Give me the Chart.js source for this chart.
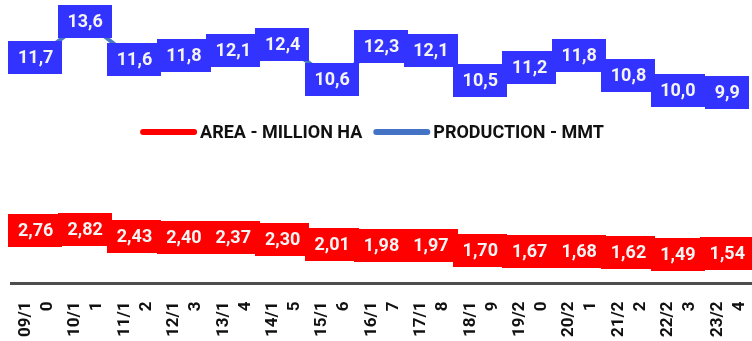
<!DOCTYPE html>
<html>
<head>
<meta charset="utf-8">
<script src="https://cdn.jsdelivr.net/npm/chart.js@4/dist/chart.umd.min.js"></script>
<style>
  html, body { margin: 0; padding: 0; background: #ffffff; }
  #wrap { width: 752px; height: 341px; position: relative; }
</style>
</head>
<body>
<div id="wrap"><canvas id="c" width="752" height="341"></canvas></div>
<script>
// Crop seasons
const seasons = ["09/10", "10/11", "11/12", "12/13", "13/14", "14/15", "15/16", "16/17",
                 "17/18", "18/19", "19/20", "20/21", "21/22", "22/23", "23/24"];
// Harvested area, million hectares
const areaMha = [2.76, 2.82, 2.43, 2.40, 2.37, 2.30, 2.01, 1.98, 1.97, 1.70, 1.67, 1.68, 1.62, 1.49, 1.54];
// Production, million metric tonnes
const productionMmt = [11.7, 13.6, 11.6, 11.8, 12.1, 12.4, 10.6, 12.3, 12.1, 10.5, 11.2, 11.8, 10.8, 10.0, 9.9];

const seriesNames = ["AREA - MILLION HA", "PRODUCTION - MMT"];

// Season labels wrap after the fourth character, as on the printed axis
const tickLabels = seasons.map(s => [s.slice(0, 4), s.slice(4)]);

const FONT = "Roboto, 'Noto Sans', sans-serif";

// Boxed value labels centred on each point
const valueBoxes = {
  id: 'valueBoxes',
  afterDatasetsDraw(chart) {
    const ctx = chart.ctx;
    ctx.save();
    ctx.font = "bold 18px " + FONT;
    ctx.textAlign = 'center';
    ctx.textBaseline = 'middle';
    chart.data.datasets.forEach((ds, di) => {
      const meta = chart.getDatasetMeta(di);
      meta.data.forEach((pt, i) => {
        const txt = ds.data[i].toFixed(ds.decimals).replace('.', ',');
        const w = ctx.measureText(txt).width + 19;
        const h = 33;
        ctx.fillStyle = ds.boxColor;
        ctx.fillRect(Math.round(pt.x - w / 2), Math.round(pt.y - h / 2), Math.round(w), h);
        ctx.fillStyle = '#f4f4f4';
        ctx.fillText(txt, pt.x, pt.y + 1);
      });
    });
    ctx.restore();
  }
};

// Legend row drawn across the middle of the plot
const middleLegend = {
  id: 'middleLegend',
  afterDraw(chart) {
    const ctx = chart.ctx;
    ctx.save();
    ctx.font = "bold 18px " + FONT;
    ctx.textBaseline = 'middle';
    ctx.textAlign = 'left';
    const lineW = 57, gap = 3, itemGap = 11;
    const items = chart.data.datasets.map(ds => ({
      label: ds.label, color: ds.legendColor, tw: ctx.measureText(ds.label).width
    }));
    const total = items.reduce((a, it) => a + lineW + gap + it.tw, 0) + itemGap * (items.length - 1);
    let x = chart.width / 2 - 4 - total / 2;
    const y = 132;
    items.forEach(it => {
      ctx.strokeStyle = it.color;
      ctx.lineWidth = 6;
      ctx.lineCap = 'round';
      ctx.beginPath();
      ctx.moveTo(x + 3, y);
      ctx.lineTo(x + lineW - 3, y);
      ctx.stroke();
      x += lineW + gap;
      ctx.fillStyle = '#111111';
      ctx.fillText(it.label, x, y + 1);
      x += it.tw + itemGap;
    });
    ctx.restore();
  }
};

new Chart(document.getElementById('c'), {
  type: 'line',
  data: {
    labels: tickLabels,
    datasets: [
      {
        label: seriesNames[0],
        data: areaMha,
        decimals: 2,
        borderColor: '#ff0000',
        boxColor: '#ff0000',
        legendColor: '#ff0000',
        borderWidth: 4,
        pointRadius: 0,
        tension: 0
      },
      {
        label: seriesNames[1],
        data: productionMmt,
        decimals: 1,
        borderColor: '#4a78c4',
        boxColor: '#3333ff',
        legendColor: '#4472c4',
        borderWidth: 4,
        pointRadius: 0,
        tension: 0
      }
    ]
  },
  options: {
    responsive: false,
    animation: false,
    devicePixelRatio: 1,
    layout: { padding: { left: 11, right: -3, top: 0, bottom: -14 } },
    plugins: {
      legend: { display: false },
      tooltip: { enabled: false }
    },
    scales: {
      x: {
        offset: true,
        grid: { display: false, drawTicks: false },
        border: { display: true, color: '#4d4d4d', width: 3 },
        ticks: {
          color: '#111111',
          font: { family: FONT, size: 17, weight: 'bold', lineHeight: 1.3 },
          maxRotation: 90,
          minRotation: 90,
          autoSkip: false,
          padding: 18,
          labelOffset: -10
        },
        afterFit(scale) {
          scale.paddingLeft = 0;
          scale.paddingRight = 0;
        }
      },
      y: {
        display: false,
        min: 0,
        max: 14.7
      }
    }
  },
  plugins: [valueBoxes, middleLegend]
});
</script>
</body>
</html>
